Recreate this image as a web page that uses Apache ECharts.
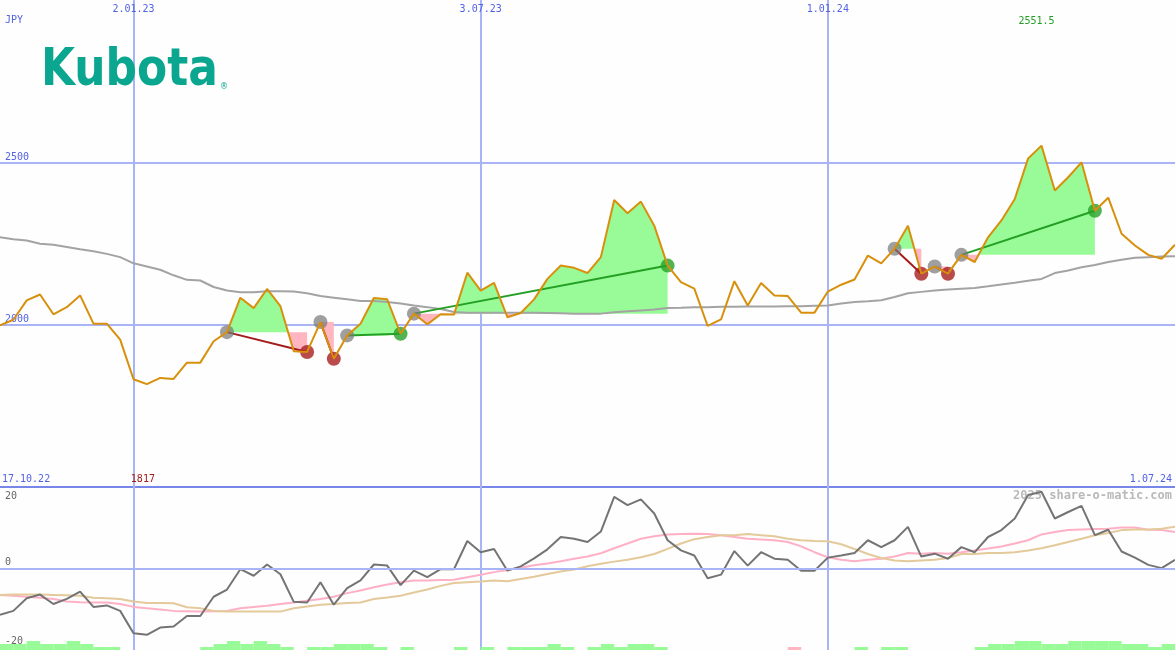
<!DOCTYPE html>
<html>
<head>
<meta charset="utf-8">
<script src="https://cdn.jsdelivr.net/npm/echarts@6.0.0/dist/echarts.min.js"></script>
<style>
  html, body { margin: 0; padding: 0; background: #fdfefd; }
  #chart { width: 1175px; height: 650px; }
</style>
</head>
<body>
<div id="chart"></div>
<script>
// ---------- DATA ----------
const firstWeek = '2022-10-24';           // first weekly point
const tickLabels = ['2.01.23', '3.07.23', '1.01.24'];
const priceTicks = [2000, 2500];
const oscTicks = [-20, 0, 20];

const price = [1998, 2015, 2075, 2093, 2032, 2054, 2090, 2003, 2003, 1954,
  1832, 1817, 1836, 1833, 1883, 1883, 1949, 1977, 2083, 2051,
  2110, 2057, 1918, 1916, 2008, 1895, 1967, 2003, 2082, 2078,
  1972, 2034, 2001, 2032, 2031, 2160, 2105, 2129, 2023, 2036,
  2078, 2141, 2182, 2175, 2159, 2208, 2384, 2343, 2379, 2305,
  2182, 2131, 2111, 1996, 2016, 2134, 2059, 2128, 2090, 2088,
  2037, 2037, 2102, 2123, 2139, 2213, 2189, 2234, 2305, 2157,
  2179, 2157, 2215, 2193, 2269, 2321, 2387, 2512, 2551.5, 2413,
  2454, 2500, 2351, 2391, 2280, 2244, 2215, 2203, 2246];

const movingAvg = [2269, 2263, 2259, 2249, 2246, 2239, 2232, 2226, 2218, 2208,
  2189, 2179, 2169, 2152, 2138, 2136, 2116, 2105, 2100, 2100,
  2103, 2103, 2102, 2097, 2088, 2083, 2078, 2073, 2073, 2070,
  2065, 2059, 2054, 2048, 2039, 2037, 2037, 2037, 2037, 2037,
  2037, 2036, 2035, 2034, 2034, 2034, 2038, 2041, 2044, 2047,
  2051, 2052, 2054, 2054, 2055, 2055, 2056, 2056, 2056, 2057,
  2057, 2058, 2059, 2065, 2070, 2072, 2075, 2085, 2097, 2101,
  2105, 2108, 2111, 2113, 2118, 2124, 2129, 2135, 2141, 2159,
  2167, 2177, 2184, 2193, 2200, 2206, 2208, 2210, 2211];

// trades: entry week index, exit week index
const tradeEntry = [17, 24, 26, 31, 67, 70, 72];
const tradeExit  = [23, 25, 30, 50, 69, 71, 82];

const momentum = [-12.8, -11.7, -8.2, -7.2, -9.8, -8.4, -6.4, -10.6, -10.2, -11.7,
  -17.9, -18.3, -16.3, -16.0, -13.1, -13.1, -7.8, -5.8, -0.2, -2.0,
  1.1, -1.6, -9.2, -9.4, -3.8, -10.0, -5.4, -3.3, 1.1, 0.8,
  -4.6, -0.6, -2.4, -0.2, -0.2, 7.6, 4.5, 5.4, -0.6, 0.6,
  2.8, 5.3, 8.7, 8.2, 7.3, 10.2, 19.8, 17.5, 19.1, 15.2,
  7.8, 5.0, 3.6, -2.7, -1.7, 4.8, 0.8, 4.5, 2.7, 2.4,
  -0.6, -0.6, 3.0, 3.6, 4.3, 7.8, 5.9, 7.8, 11.5, 3.3,
  4.1, 2.7, 5.9, 4.5, 8.7, 10.6, 13.8, 20.3, 21.2, 13.8,
  15.6, 17.3, 9.2, 10.7, 4.7, 3.0, 1.0, 0.1, 2.4];

const signalPink = [-7.3, -7.5, -7.8, -8.1, -8.4, -9.1, -9.3, -9.4, -9.4, -9.8,
  -10.6, -11.0, -11.3, -11.7, -11.8, -11.9, -11.8, -11.7, -11.0, -10.6,
  -10.3, -9.8, -9.4, -8.9, -8.4, -7.8, -6.8, -6.1, -5.2, -4.4,
  -3.8, -3.3, -3.3, -3.2, -3.1, -2.4, -1.7, -1.0, -0.4, 0.2,
  0.9, 1.4, 2.0, 2.7, 3.3, 4.2, 5.6, 6.9, 8.2, 8.9,
  9.4, 9.5, 9.6, 9.5, 9.2, 8.7, 8.2, 8.0, 7.8, 7.3,
  6.1, 4.5, 3.1, 2.4, 2.0, 2.4, 2.7, 3.3, 4.3, 4.1,
  4.3, 4.1, 4.5, 5.0, 5.5, 6.1, 6.9, 7.8, 9.4, 10.1,
  10.6, 10.8, 10.9, 11.0, 11.3, 11.3, 10.7, 10.6, 10.1];

const signalTan = [-7.3, -7.2, -7.2, -7.2, -7.3, -7.4, -7.5, -8.1, -8.2, -8.4,
  -9.1, -9.5, -9.5, -9.6, -10.7, -11.0, -11.7, -11.9, -11.9, -11.9,
  -11.9, -11.9, -11.0, -10.5, -10.0, -9.8, -9.5, -9.4, -8.4, -8.0,
  -7.5, -6.6, -5.8, -4.8, -4.0, -3.8, -3.6, -3.3, -3.5, -2.9,
  -2.3, -1.5, -0.8, -0.3, 0.6, 1.3, 1.9, 2.4, 3.1, 4.0,
  5.4, 6.9, 8.1, 8.7, 9.2, 9.2, 9.5, 9.2, 8.9, 8.2,
  7.8, 7.6, 7.5, 6.7, 5.4, 4.0, 2.9, 2.2, 2.0, 2.2,
  2.4, 2.9, 4.0, 4.0, 4.3, 4.3, 4.5, 5.0, 5.6, 6.4,
  7.3, 8.2, 9.2, 9.8, 10.6, 10.8, 10.8, 11.0, 11.5];

// weekly strength bars (negative = pink)
const strengthBars = [2, 2, 3, 2, 2, 3, 2, 1, 1, 0,
  0, 0, 0, 0, 0, 1, 2, 3, 2, 3,
  2, 1, 0, 1, 1, 2, 2, 2, 1, 0,
  1, 0, 0, 0, 1, 0, 1, 0, 1, 1,
  1, 2, 1, 0, 1, 2, 1, 2, 2, 1,
  0, 0, 0, 0, 0, 0, 0, 0, 0, -1,
  0, 0, 0, 0, 1, 0, 1, 1, 0, 0,
  0, 0, 0, 1, 2, 2, 3, 3, 2, 2,
  3, 3, 3, 3, 2, 2, 1, 2];

// ---------- STYLE ----------
const BLUE_TXT = '#5262e6';
const GRID_LINE = '#a8b4f6';
const SEP_LINE = '#7886ea';
const MONO = '"DejaVu Sans Mono", monospace';
const GREEN_FILL = '#98fb98';
const PINK_FILL = '#ffb6c1';

// weekly date labels
const dates = (() => {
  const t0 = Date.parse(firstWeek + 'T00:00:00Z');
  return price.map((_, i) => {
    const d = new Date(t0 + i * 7 * 86400000);
    return d.getUTCDate() + '.' + String(d.getUTCMonth() + 1).padStart(2, '0') + '.' + String(d.getUTCFullYear()).slice(2);
  });
})();
const isTick = (idx, val) => tickLabels.includes(val);

const chart = echarts.init(document.getElementById('chart'), null, { renderer: 'canvas' });

const series = [];

// trade fill areas
tradeEntry.forEach((s, k) => {
  const e = tradeExit[k];
  const L = price[s];
  const pts = [];
  for (let i = s; i <= e; i++) {
    pts.push([i, price[i]]);
    if (i < e) {
      const a = price[i] - L, b = price[i + 1] - L;
      if (a * b < 0) pts.push([i + a / (a - b), L]);
    }
  }
  series.push({
    type: 'line', xAxisIndex: 1, yAxisIndex: 0, silent: true, z: 1,
    symbol: 'none', lineStyle: { width: 0, opacity: 0 },
    areaStyle: { color: GREEN_FILL, opacity: 1, origin: L },
    data: pts.map(p => [p[0], Math.max(p[1], L)])
  });
  series.push({
    type: 'line', xAxisIndex: 1, yAxisIndex: 0, silent: true, z: 1,
    symbol: 'none', lineStyle: { width: 0, opacity: 0 },
    areaStyle: { color: PINK_FILL, opacity: 1, origin: L },
    data: pts.map(p => [p[0], Math.min(p[1], L)])
  });
});

// moving average
series.push({
  type: 'line', xAxisIndex: 0, yAxisIndex: 0, z: 2, symbol: 'none',
  lineStyle: { color: '#a3a3a3', width: 2 }, data: movingAvg
});

// trade connectors
tradeEntry.forEach((s, k) => {
  const e = tradeExit[k];
  const win = price[e] >= price[s];
  series.push({
    type: 'line', xAxisIndex: 1, yAxisIndex: 0, z: 3, symbol: 'none',
    lineStyle: { color: win ? '#23a023' : '#a31c1c', width: 2 },
    data: [[s, price[s]], [e, price[e]]]
  });
});

// entry markers
series.push({
  type: 'scatter', xAxisIndex: 1, yAxisIndex: 0, z: 4, symbolSize: 14,
  itemStyle: { color: 'rgba(118,118,118,0.88)' },
  data: tradeEntry.map(s => [s, price[s]])
});
// exit markers
series.push({
  type: 'scatter', xAxisIndex: 1, yAxisIndex: 0, z: 4, symbolSize: 14,
  data: tradeExit.map((e, k) => ({
    value: [e, price[e]],
    itemStyle: { color: price[e] >= price[tradeEntry[k]] ? '#27a027' : '#a81e1e' }
  }))
});

// price line
series.push({
  type: 'line', xAxisIndex: 0, yAxisIndex: 0, z: 5, symbol: 'none',
  lineStyle: { color: '#d8900c', width: 2 }, data: price
});

// lower panel
series.push({
  type: 'line', xAxisIndex: 2, yAxisIndex: 1, z: 2, symbol: 'none',
  lineStyle: { color: '#ffb0c6', width: 2 }, data: signalPink
});
series.push({
  type: 'line', xAxisIndex: 2, yAxisIndex: 1, z: 2, symbol: 'none',
  lineStyle: { color: '#e4c99a', width: 2 }, data: signalTan
});
series.push({
  type: 'line', xAxisIndex: 2, yAxisIndex: 1, z: 3, symbol: 'none',
  lineStyle: { color: '#747474', width: 2 }, data: momentum,
  markLine: {
    silent: true, symbol: 'none', label: { show: false },
    lineStyle: { color: GRID_LINE, width: 2, type: 'solid' },
    data: [{ yAxis: 0 }]
  }
});

// strength bars
series.push({
  type: 'bar', xAxisIndex: 3, yAxisIndex: 2, barWidth: '100%', silent: true,
  data: strengthBars.map(v => ({ value: Math.abs(v), itemStyle: { color: v < 0 ? PINK_FILL : GREEN_FILL } }))
});

const option = {
  animation: false,
  backgroundColor: '#fdfefd',
  grid: [
    { left: 0, right: 0, top: -1, height: 488 },
    { left: 0, right: 0, top: 487, height: 163 },
    { left: 0, right: 0, top: 641, height: 9 }
  ],
  xAxis: [
    {
      gridIndex: 0, type: 'category', data: dates, boundaryGap: false, position: 'top',
      axisLine: { show: false }, axisTick: { show: false },
      axisLabel: { inside: true, interval: isTick, margin: 4, color: BLUE_TXT, fontSize: 10, fontFamily: MONO },
      splitLine: { show: true, interval: isTick, lineStyle: { color: GRID_LINE, width: 2 } }
    },
    { gridIndex: 0, type: 'value', min: 0, max: price.length - 1, show: false },
    {
      gridIndex: 1, type: 'category', data: dates, boundaryGap: false, position: 'top',
      axisLine: { show: true, lineStyle: { color: SEP_LINE, width: 2 } }, axisTick: { show: false },
      axisLabel: { show: false },
      splitLine: { show: true, interval: isTick, lineStyle: { color: GRID_LINE, width: 2 } }
    },
    { gridIndex: 2, type: 'category', data: dates.slice(0, strengthBars.length), boundaryGap: true, show: false }
  ],
  yAxis: [
    {
      gridIndex: 0, type: 'value', min: 1500, max: 3000, interval: 500,
      axisLine: { show: false }, axisTick: { show: false },
      axisLabel: {
        inside: true, margin: 5, verticalAlign: 'bottom', color: BLUE_TXT, fontSize: 10, fontFamily: MONO,
        formatter: v => priceTicks.includes(v) ? String(v) : ''
      },
      splitLine: { show: true, lineStyle: { color: [SEP_LINE, GRID_LINE, GRID_LINE, 'rgba(0,0,0,0)'], width: 2 } }
    },
    {
      gridIndex: 1, type: 'value', min: -22.5, max: 22.5, splitNumber: 4,
      axisLine: { show: false }, axisTick: { show: false }, splitLine: { show: false },
      axisLabel: {
        inside: true, margin: 5, color: '#666666', fontSize: 10, fontFamily: MONO,
        formatter: v => oscTicks.includes(v) ? (v === 0 ? '{z|0}' : String(v)) : '',
        rich: { z: { color: '#666666', fontSize: 10, fontFamily: MONO, padding: [0, 0, 12, 0] } }
      }
    },
    { gridIndex: 2, type: 'value', min: 0, max: 3, show: false }
  ],
  series: series
};
chart.setOption(option);

// annotations
const minIdx = price.indexOf(Math.min(...price));
const maxIdx = price.indexOf(Math.max(...price));
const xMin = chart.convertToPixel({ xAxisIndex: 1 }, minIdx);
const xMax = chart.convertToPixel({ xAxisIndex: 1 }, maxIdx);

chart.setOption({
  graphic: [
    { type: 'text', x: 5, y: 15, z: 0, style: { text: 'JPY', fill: BLUE_TXT, font: '10px ' + MONO } },
    { type: 'text', x: 41, y: 71, scaleX: 0.845, z: 0,
      style: { text: 'Kubota', fill: '#0aa690', font: 'bold 52px "DejaVu Sans"', verticalAlign: 'middle' } },
    { type: 'text', x: 220, y: 83, z: 0, style: { text: '®', fill: '#0aa690', font: '8px "DejaVu Sans"' } },
    { type: 'text', x: xMax - 5, y: 16, z: 0, style: { text: String(price[maxIdx]), fill: '#23a023', font: '10px ' + MONO, align: 'center' } },
    { type: 'text', x: xMin - 4, y: 474, z: 0, style: { text: String(price[minIdx]), fill: '#a31c1c', font: '10px ' + MONO, align: 'center' } },
    { type: 'text', x: 2, y: 474, z: 0, style: { text: '17.10.22', fill: BLUE_TXT, font: '10px ' + MONO } },
    { type: 'text', x: 1172, y: 474, z: 0, style: { text: dates[dates.length - 1], fill: BLUE_TXT, font: '10px ' + MONO, align: 'right' } },
    { type: 'text', x: 1172, y: 490, z: 0, style: { text: '2025 share-o-matic.com', fill: '#b9b9b9', font: 'bold 12px ' + MONO, align: 'right' } }
  ]
});
</script>
</body>
</html>
